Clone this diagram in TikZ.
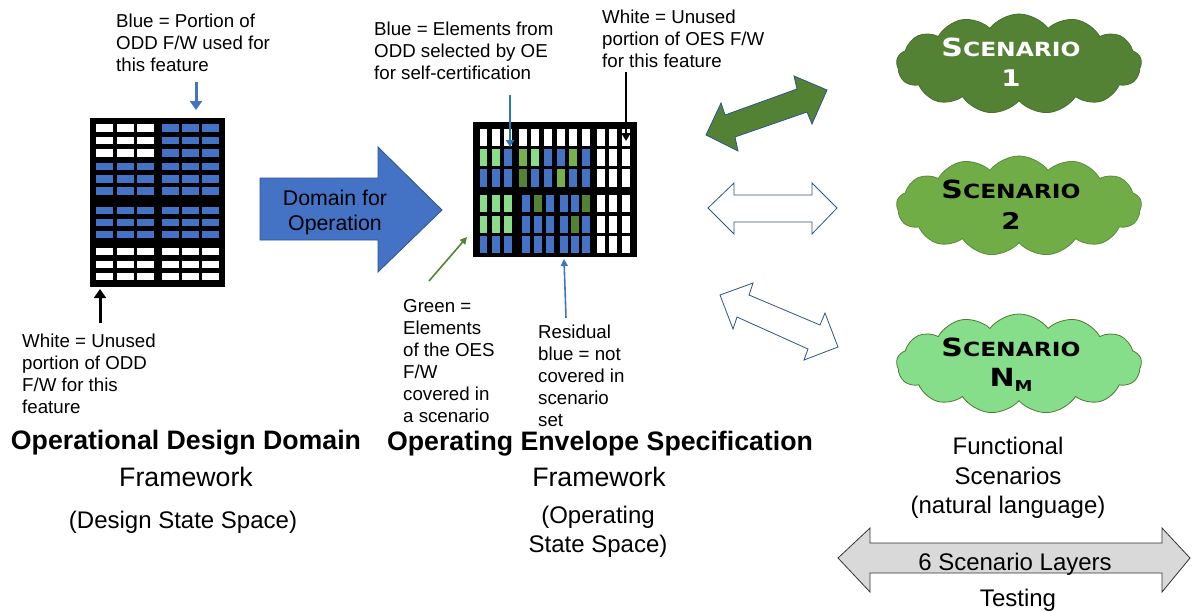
\documentclass[tikz,border=0pt]{standalone}
\usepackage{fontspec}
\setmainfont{Liberation Sans}
\newfontfamily\capsfont{DejaVu Sans}
\usepackage{graphicx}
\usetikzlibrary{shapes.symbols,arrows.meta,calc}

\definecolor{cW}{HTML}{FFFFFF}
\definecolor{cB}{HTML}{4472C4}
\definecolor{cL}{HTML}{88DC8A}
\definecolor{cM}{HTML}{76B14A}
\definecolor{cD}{HTML}{548235}
\definecolor{edgeblue}{HTML}{2F528F}
\definecolor{ptrblue}{HTML}{2E75B6}
\definecolor{cloudA}{HTML}{548235}
\definecolor{cloudB}{HTML}{70AD47}
\definecolor{cloudC}{HTML}{86DE8A}
\definecolor{layergray}{HTML}{D9D9D9}

% small-caps style word used inside the scenario clouds
\newcommand\scenword{\scalebox{1.2}[1]{\capsfont\bfseries\fontsize{25}{25}\selectfont S\fontsize{19.5}{19.5}\selectfont CENARIO}}
\newcommand\scennum[1]{\scalebox{1.2}[1]{\capsfont\bfseries\fontsize{23}{23}\selectfont #1}}

\begin{document}
\begin{tikzpicture}[x=1pt,y=-1pt,
  lbl/.style={font=\fontsize{18.7}{22}\selectfont, align=left, anchor=west, inner sep=0pt},
  ttl/.style={font=\fontsize{24}{29.5}\selectfont, align=center, inner sep=0pt},
  fwttl/.style={font=\fontsize{26.7}{30}\selectfont, align=center, inner sep=0pt},
  bttl/.style={font=\bfseries\fontsize{26.7}{30}\selectfont, align=center, inner sep=0pt},
  thickptr/.style={line width=3pt, -{Triangle[width=12pt,length=9pt]}},
  thinptr/.style={line width=1.6pt, -{Triangle[width=7pt,length=7pt]}},
  blockarrow/.style={draw=edgeblue, line width=0.8pt, line join=miter},
  scloud/.style={cloud, cloud puffs=13, cloud puff arc=105, minimum width=245pt, minimum height=100pt, inner sep=0pt, line width=0.8pt},
  cloudtxt/.style={inner sep=0pt}
]
\useasboundingbox (0,0) rectangle (1193,611);

% ---------- ODD framework grid ----------
\fill[black] (90,118) rectangle (225,287);
\foreach \top/\ca/\cb in {124/W/B,136.5/W/B,149/W/B,162.5/B/B,175/B/B,187/B/B,206.5/B/B,218.5/B/B,230.5/B/B,247.5/W/W,260.5/W/W,272.5/W/W}{
  \foreach \x in {96,117,137} \fill[fill=c\ca] (\x,\top) rectangle ++(17,7.8);
  \foreach \x in {162,182,202} \fill[fill=c\cb] (\x,\top) rectangle ++(17,7.8);
}
\coordinate (oddtop) at (196,110);
\coordinate (oddbot) at (100,289);

% ---------- OES framework grid ----------
\fill[black] (473,122) rectangle (637,257);
\foreach \top/\cs in {128.5/{W,W,W,W,W,W,W,W,W,W,W,W},148.5/{L,L,B,M,L,B,B,M,B,W,W,W},169/{B,B,B,D,B,B,M,B,B,W,W,W}}{
  \foreach \c [count=\i] in \cs {
    \pgfmathsetmacro\xx{{479.5,491.7,504.2,519.3,531.3,543.8,557,569,582,597,609,622}[\i-1]}
    \fill[fill=c\c] (\xx,\top) rectangle ++(7.8,17.5);
  }
}
\foreach \top/\cs in {195/{L,L,L,B,D,B,B,B,D,W,W,W},216/{L,L,L,B,B,B,B,D,B,W,W,W},236/{B,B,B,B,B,B,B,B,B,W,W,W}}{
  \foreach \c [count=\i] in \cs {
    \pgfmathsetmacro\xx{{479.5,491.7,504.2,522,534,546,560,571,582,597,609,622}[\i-1]}
    \fill[fill=c\c] (\xx,\top) rectangle ++(7.8,16.8);
  }
}
\coordinate (oesblue) at (510,147);
\coordinate (oeswhite) at (626,141);
\coordinate (oesgreen) at (467,237);
\coordinate (oesresid) at (564,259);

% ---------- labels around the ODD grid ----------
\node[lbl] (oddblue) at (116,43) {Blue = Portion of\\ODD F/W used for\\this feature};
\node[lbl] (oddwhite) at (22,374) {White = Unused\\portion of ODD\\F/W for this\\feature};
\coordinate (oddblueend) at (196,82);
\coordinate (oddwhiteend) at (100,323);
\draw[thickptr, cB] (oddblueend) -- (oddtop);
\draw[thickptr, black] (oddwhiteend) -- (oddbot);

\node[bttl] (oddtitle) at (186,443) {Operational Design Domain};
\node[fwttl] (oddfw) at (186,477) {Framework};
\node[ttl] (oddss) at (183,522) {(Design State Space)};

% ---------- Domain for Operation block arrow ----------
\fill[cB] (260,178) -- (378,178) -- (378,147) -- (442,210) -- (378,272) -- (378,240) -- (260,240) -- cycle;
\draw[blockarrow] (260,178) -- (378,178) -- (378,147) -- (442,210) -- (378,272) -- (378,240) -- (260,240) -- cycle;
\node[font=\fontsize{21.3}{25}\selectfont, align=center, inner sep=0pt] (dom) at (335,212) {Domain for\\Operation};

% ---------- labels around the OES grid ----------
\node[lbl] (oesbluelbl) at (374,51) {Blue = Elements from\\ODD selected by OE\\for self-certification};
\node[lbl] (oeswhitelbl) at (602,39) {White = Unused\\portion of OES F/W\\for this feature};
\coordinate (oesblueend) at (510,95);
\coordinate (oeswhiteend) at (626,72);
\draw[line width=2pt, ptrblue, -{Triangle[width=8pt,length=7pt]}] (oesblueend) -- (oesblue);
\draw[line width=2pt, black, -{Triangle[width=9pt,length=8pt]}] (oeswhiteend) -- (oeswhite);

\node[lbl] (greenlbl) at (403,361) {Green =\\Elements\\of the OES\\F/W\\covered in\\a scenario};
\node[lbl] (residlbl) at (538,376) {Residual\\blue = not\\covered in\\scenario\\set};
\coordinate (greenend) at (429,281);
\coordinate (residend) at (566,318);
\draw[thinptr, cD] (greenend) -- (oesgreen);
\draw[thinptr, cB] (residend) -- (oesresid);

\node[bttl] (oestitle) at (600,444) {Operating Envelope Specification};
\node[fwttl] (oesfw) at (599,477) {Framework};
\node[ttl] (oesss) at (598,532) {(Operating\\State Space)};

% ---------- links to the scenarios ----------
\fill[cD] (706,135) -- (721,103) -- (725,115) -- (797,89) -- (794,76) -- (827,90) -- (812,124) -- (807,112) -- (735,137) -- (738,151) -- cycle;
\draw[blockarrow] (706,135) -- (721,103) -- (725,115) -- (797,89) -- (794,76) -- (827,90) -- (812,124) -- (807,112) -- (735,137) -- (738,151) -- cycle;
\draw[blockarrow, fill=white] (708,208) -- (734,183) -- (734,195) -- (812,195) -- (812,183) -- (837,208) -- (812,234) -- (812,222) -- (734,222) -- (734,234) -- cycle;
\draw[blockarrow, fill=white] (720,295) -- (753,283) -- (749,295) -- (820,325) -- (825,313) -- (838,347) -- (804,360) -- (808,349) -- (737,317) -- (733,329) -- cycle;

% ---------- scenario clouds ----------
\node[scloud, fill=cloudA, draw=cloudA!85!black] (s1) at (1019,64) {};
\node[cloudtxt, white] (s1a) at ($(s1.center)+(-8,-17)$) {\scenword};
\node[cloudtxt, white] (s1b) at ($(s1.center)+(-8,14)$) {\scennum{1}};

\node[scloud, fill=cloudB, draw=cloudB!80!black] (s2) at (1019,206) {};
\node[cloudtxt] (s2a) at ($(s2.center)+(-8,-17)$) {\scenword};
\node[cloudtxt] (s2b) at ($(s2.center)+(-8,15)$) {\scennum{2}};

\node[scloud, fill=cloudC, draw=cloudB!70!black] (s3) at (1019,364) {};
\node[cloudtxt] (s3a) at ($(s3.center)+(-8,-17)$) {\scenword};
\node[cloudtxt] (s3b) at ($(s3.center)+(-8,16)$) {\scalebox{1.2}[1]{\capsfont\bfseries\fontsize{25}{25}\selectfont N\raisebox{-5pt}{\fontsize{15}{15}\selectfont M}}};

\node[ttl] (funcs) at (1008,478) {Functional\\Scenarios\\(natural language)};

% ---------- scenario layers ----------
\draw[fill=layergray, draw=black!80, line width=0.8pt] (838,558) -- (870,528) -- (870,543) -- (1162,543) -- (1162,528) -- (1190,558) -- (1162,592) -- (1162,573) -- (870,573) -- (870,592) -- cycle;
\node[ttl] (layers) at (1015,564) {6 Scenario Layers};
\node[ttl] (testing) at (1018,600) {Testing};
\end{tikzpicture}
\end{document}
